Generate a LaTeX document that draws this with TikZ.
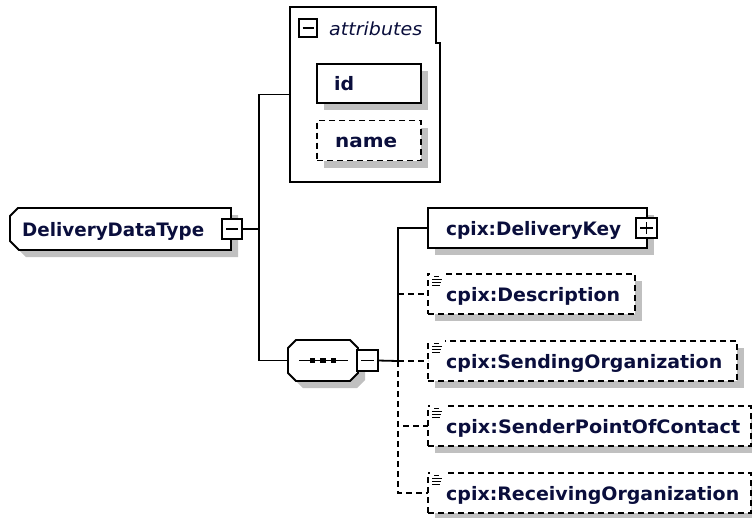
\documentclass[tikz,border=0pt]{standalone}
\usepackage{fontspec}
\setmainfont{DejaVu Sans}
\usepackage{graphicx}
\usetikzlibrary{shadows,calc}
\definecolor{shad}{RGB}{192,192,192}
\definecolor{txt}{RGB}{10,14,60}
\newcommand\fitw[2]{\resizebox{#1pt}{\height}{#2}}
\begin{document}
\begin{tikzpicture}[x=1pt,y=-1pt,
  box/.style={rectangle, draw=black, line width=1.8pt, fill=white, inner sep=0pt, outer sep=0pt},
  shadowed/.style={drop shadow={shadow xshift=7pt, shadow yshift=-7pt, fill=shad, opacity=1, draw=none}},
  dbox/.style={box, dash pattern=on 6pt off 4pt},
  holder/.style={rectangle, inner sep=0pt, outer sep=0pt},
  tog/.style={box, minimum width=20pt, minimum height=20pt},
  conn/.style={line width=1.8pt},
  dconn/.style={conn, dash pattern=on 6pt off 4pt},
  sym/.style={line width=1.4pt},
  lbl/.style={anchor=base west, inner sep=0pt, text=txt, font=\bfseries\fontsize{18.5pt}{20pt}\selectfont},
  ilbl/.style={anchor=base west, inner sep=0pt, text=txt, font=\itshape\fontsize{18pt}{20pt}\selectfont},
  icon/.style={line width=1.2pt, draw=black}
]
\clip (0,0) rectangle (752,517);
\fill[white] (0,0) rectangle (752,517);

% ---------- junctions ----------
\coordinate (jA) at (259,229);
\coordinate (jB) at (398,361);

% ---------- DeliveryDataType ----------
\node[holder, minimum width=221pt, minimum height=42pt] (ddt) at (120.5,229) {};
\path[box, shadowed] ($(ddt.north west)+(0,8)$) -- ($(ddt.north west)+(8,0)$)
  -- (ddt.north east) -- (ddt.south east) -- ($(ddt.south west)+(9,0)$)
  -- ($(ddt.south west)+(0,-9)$) -- cycle;
\node[lbl] (tddt) at (22,236) {\fitw{182}{DeliveryDataType}};
\node[tog] (ddtm) at (232,229) {};
\draw[sym] ([xshift=4pt]ddtm.west) -- ([xshift=-4pt]ddtm.east);

% ---------- attributes ----------
\node[holder, minimum width=150pt, minimum height=175pt] (attr) at (365,94.5) {};
\draw[line width=1.8pt, fill=white] (attr.north west) -- ([xshift=-4pt]attr.north east)
  -- ([xshift=-4pt,yshift=-36pt]attr.north east) -- ([yshift=-36pt]attr.north east)
  -- (attr.south east) -- (attr.south west) -- cycle;
\node[tog, minimum width=18pt, minimum height=18pt] (attrm) at (308,28) {};
\draw[sym] ([xshift=3.5pt]attrm.west) -- ([xshift=-3.5pt]attrm.east);
\node[ilbl] (tattr) at (329,35) {\fitw{93}{attributes}};

\node[box, shadowed, minimum width=104pt, minimum height=39pt] (id) at (369,83.5) {};
\node[lbl] (tid) at (334,90) {\fitw{20}{id}};
\node[dbox, shadowed, minimum width=104pt, minimum height=40pt] (name) at (369,140.5) {};
\node[lbl] (tname) at (335,147) {\fitw{62}{name}};

% ---------- sequence ----------
\node[holder, minimum width=70pt, minimum height=41pt] (seq) at (323,360.5) {};
\path[box, shadowed] ($(seq.north west)+(0,8)$) -- ($(seq.north west)+(8,0)$)
  -- ($(seq.north east)+(-8,0)$) -- ($(seq.north east)+(0,8)$)
  -- ($(seq.south east)+(0,-8)$) -- ($(seq.south east)+(-8,0)$)
  -- ($(seq.south west)+(8,0)$) -- ($(seq.south west)+(0,-8)$) -- cycle;
\draw[line width=1.4pt] ($(seq.center)+(-24,0)$) -- ($(seq.center)+(25,0)$);
\foreach \dx in {-10.5,0,10.5}
  \fill[black] ($(seq.center)+(\dx,0)$) ++(-2.8,-2.8) rectangle ++(5.6,5.6);
\node[tog, minimum width=21pt, minimum height=21pt] (seqm) at (367.5,360.5) {};
\draw[sym] ([xshift=4pt]seqm.west) -- ([xshift=-4pt]seqm.east);

% ---------- child elements ----------
\node[box, shadowed, minimum width=219pt, minimum height=40pt] (dk) at (537.5,228) {};
\node[lbl] (tdk) at (446,235.5) {\fitw{175}{cpix:DeliveryKey}};
\node[tog, minimum width=21pt, minimum height=20pt] (dkp) at (646.5,228) {};
\draw[sym] ([xshift=4pt]dkp.west) -- ([xshift=-4pt]dkp.east);
\draw[sym] ([yshift=-4pt]dkp.north) -- ([yshift=4pt]dkp.south);

\node[dbox, shadowed, minimum width=207pt, minimum height=40pt] (desc) at (531.5,294) {};
\node[lbl] (tdesc) at (446,301.5) {\fitw{174}{cpix:Description}};

\node[dbox, shadowed, minimum width=309pt, minimum height=40pt] (send) at (582.5,361) {};
\node[lbl] (tsend) at (446,368.5) {\fitw{276}{cpix:SendingOrganization}};

\node[dbox, shadowed, minimum width=323pt, minimum height=40pt] (spoc) at (589.5,426) {};
\node[lbl] (tspoc) at (446,433.5) {\fitw{294}{cpix:SenderPointOfContact}};

\node[dbox, shadowed, minimum width=323pt, minimum height=40pt] (recv) at (589.5,493) {};
\node[lbl] (trecv) at (446,500.5) {\fitw{293}{cpix:ReceivingOrganization}};

% documentation icons
\foreach \n in {desc,send,spoc,recv}{
  \fill[white] ($(\n.north west)+(2,-1.5)$) rectangle ($(\n.north west)+(17,13)$);
  \draw[icon] ($(\n.north west)+(6,2.5)$) -- ($(\n.north west)+(11,2.5)$);
  \draw[icon] ($(\n.north west)+(4,5.5)$) -- ($(\n.north west)+(14,5.5)$);
  \draw[icon] ($(\n.north west)+(4,8.5)$) -- ($(\n.north west)+(13,8.5)$);
  \draw[icon] ($(\n.north west)+(4,11.5)$) -- ($(\n.north west)+(12,11.5)$);
}

% ---------- connector lines ----------
\draw[conn] (ddtm.east) -- (jA);
\draw[conn] (jA) |- (attr.west);
\draw[conn] (jA) |- (seq.west);
\draw[conn] (seqm.east) -- (jB);
\draw[conn] (jB) |- (dk.west);
\draw[dconn] (desc.west -| jB) -- (desc.west);
\draw[dconn] (jB) -- (send.west);
\draw[dconn] (jB) |- (spoc.west);
\draw[dconn] (jB) |- (recv.west);
\end{tikzpicture}
\end{document}
